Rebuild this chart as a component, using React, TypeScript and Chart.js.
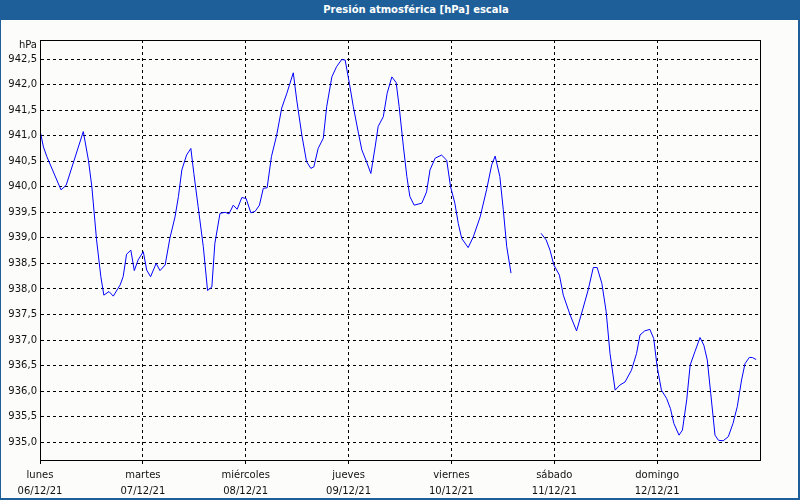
import React, { useEffect, useRef } from 'react';
import { Chart, registerables } from 'chart.js';

Chart.register(...registerables);

const chartTitle = 'Presión atmosférica [hPa] escala';

// hours since Monday 06/12/21 00:00
const hours = [
  0, 0.8, 1.6, 4.9, 6.1, 10.1, 11.3, 12.1, 13.2, 14.2, 14.9, 16.1, 17.1, 18.7, 19.4, 20.2, 21.2, 22.0, 22.9,
  24.1, 24.9, 25.8, 27.1, 28.0, 29.2, 30.3, 31.5, 32.3, 33.1, 34.2, 35.2, 35.9, 36.9, 38.1, 39.1, 40.1, 40.8,
  42.0, 43.2, 44.1, 45.1, 46.0, 47.1, 48.1, 49.2, 50.2, 51.2, 52.1, 53.0, 54.0, 55.2, 56.4, 57.6, 59.1, 59.9,
  61.1, 62.2, 63.2, 63.9, 64.9, 66.1, 66.9, 68.1, 69.2, 70.4, 71.2, 72.2, 73.1, 74.3, 75.1, 76.2, 77.2, 78.2,
  78.9, 80.1, 81.0, 82.1, 83.1, 83.8, 84.8, 85.6, 86.3, 87.3, 89.1, 90.2, 91.0, 92.2, 93.7, 94.9, 95.8, 96.8,
  97.6, 98.4, 99.9, 101.1, 102.7, 104.2, 105.4, 106.2, 107.3, 108.1, 108.9, 109.9, 113, 116.9, 118.1, 119.0,
  119.9, 121.2, 122.1, 123.7, 125.2, 126.6, 127.9, 129.1, 130.0, 131.1, 132.1, 133.0, 134.2, 135.3, 136.5,
  138.0, 139.2, 140.0, 141.1, 142.3, 143.2, 144.0, 145.0, 146.2, 147.1, 147.9, 149.1, 149.9, 150.9, 151.7,
  152.8, 154.0, 154.9, 155.7, 156.5, 157.5, 158.3, 159.4, 160.6, 161.7, 162.7, 163.7, 164.5, 165.5, 166.2, 167.1,
];

const pressure: (number | null)[] = [
  941.1, 940.78, 940.59, 939.94, 940.03, 941.08, 940.52, 940.0, 938.96, 938.24, 937.88, 937.95, 937.86, 938.08,
  938.24, 938.68, 938.76, 938.36, 938.57,
  938.73, 938.37, 938.24, 938.5, 938.36, 938.47, 938.99, 939.41, 939.81, 940.33, 940.62, 940.75, 940.26, 939.61,
  938.83, 937.97, 938.04, 938.89,
  939.48, 939.5, 939.47, 939.64, 939.56, 939.79, 939.77, 939.49, 939.52, 939.64, 939.97, 939.98, 940.59, 941.0,
  941.54, 941.83, 942.23, 941.7,
  941.01, 940.49, 940.36, 940.39, 940.75, 940.95, 941.57, 942.15, 942.35, 942.49, 942.48, 942.02, 941.57, 941.05,
  940.72, 940.49, 940.26, 940.78,
  941.18, 941.37, 941.83, 942.15, 942.04, 941.57, 940.78, 940.2, 939.81, 939.64, 939.68, 939.9, 940.33, 940.56,
  940.62, 940.52, 940.0, 939.68,
  939.28, 938.99, 938.81, 939.02, 939.41, 939.94, 940.43, 940.6, 940.2, 939.55, 938.83, 938.31, null, 939.09,
  938.96, 938.76,
  938.47, 938.27, 937.88, 937.49, 937.18, 937.59, 937.98, 938.42, 938.42, 938.11, 937.56, 936.74, 936.02, 936.12,
  936.18,
  936.41, 936.74, 937.1, 937.18, 937.21, 937.03, 936.48, 936.02, 935.86, 935.66, 935.37, 935.14, 935.24, 935.83,
  936.51,
  936.77, 937.05, 936.9, 936.61, 935.96, 935.14, 935.04, 935.03, 935.11, 935.37, 935.7, 936.22, 936.54, 936.66,
  936.66, 936.62,
];

const dayNames = ['lunes', 'martes', 'miércoles', 'jueves', 'viernes', 'sábado', 'domingo'];
const dayDates = ['06/12/21', '07/12/21', '08/12/21', '09/12/21', '10/12/21', '11/12/21', '12/12/21'];
const yTickValues = [935.0, 935.5, 936.0, 936.5, 937.0, 937.5, 938.0, 938.5, 939.0, 939.5, 940.0, 940.5, 941.0, 941.5, 942.0, 942.5];
const yUnitLabel = 'hPa';
const yUnitValue = 942.76;
const yMin = 934.654;
const yMax = 942.872;
const xMaxHours = 168;

const BLUE_FRAME = '#1e5f99';
const FONT = '"DejaVu Sans", Verdana, sans-serif';

const framePlugin = {
  id: 'frame',
  afterDraw(chart: any) {
    const { ctx, chartArea } = chart;
    ctx.save();
    ctx.strokeStyle = '#000';
    ctx.lineWidth = 1;
    ctx.setLineDash([]);
    ctx.strokeRect(Math.round(chartArea.left) + 0.5, Math.round(chartArea.top) + 0.5,
      Math.round(chartArea.right - chartArea.left), Math.round(chartArea.bottom - chartArea.top));
    ctx.restore();
  },
};

export default function App() {
  const canvasRef = useRef<HTMLCanvasElement | null>(null);

  useEffect(() => {
    if (!canvasRef.current) return;
    const data = hours.map((h, i) => ({ x: h, y: pressure[i] }));
    const chart = new Chart(canvasRef.current, {
      type: 'line',
      data: {
        datasets: [
          {
            data: data as any,
            borderColor: '#0000ff',
            borderWidth: 1,
            pointRadius: 0,
            tension: 0,
            spanGaps: false,
            fill: false,
          },
        ],
      },
      options: {
        animation: false,
        responsive: false,
        maintainAspectRatio: false,
        layout: { padding: { left: 0, top: 40, right: 40, bottom: 0 } },
        plugins: {
          legend: { display: false },
          tooltip: { enabled: false },
          title: { display: false },
        },
        scales: {
          x: {
            type: 'linear',
            min: 0,
            max: xMaxHours,
            afterBuildTicks: (scale: any) => {
              scale.ticks = dayNames.map((_, i) => ({ value: i * 24 }));
            },
            afterFit: (scale: any) => {
              scale.height = 40;
            },
            grid: {
              color: '#000',
              lineWidth: 1,
              drawTicks: true,
              tickLength: 4,
              tickColor: '#000',
              tickBorderDash: [],
            },
            border: { display: true, color: '#000', width: 1, dash: [3, 3] },
            ticks: {
              autoSkip: false,
              maxRotation: 0,
              padding: 4,
              color: '#111',
              font: { family: FONT, size: 10, lineHeight: 1.55 },
              callback: (value: any) => {
                const i = Math.round(Number(value) / 24);
                return [dayNames[i], dayDates[i]];
              },
            },
          },
          y: {
            type: 'linear',
            min: yMin,
            max: yMax,
            afterBuildTicks: (scale: any) => {
              scale.ticks = [...yTickValues.map((v) => ({ value: v })), { value: yUnitValue }];
            },
            afterFit: (scale: any) => {
              scale.width = 40;
            },
            grid: {
              color: (ctx: any) => (ctx.tick && ctx.tick.value > 942.6 ? 'rgba(0,0,0,0)' : '#000'),
              lineWidth: 1,
              drawTicks: false,
            },
            border: { display: true, color: '#000', width: 1, dash: [3, 3] },
            ticks: {
              autoSkip: false,
              padding: 3,
              color: '#111',
              font: { family: FONT, size: 10 },
              callback: (value: any) => {
                const v = Number(value);
                if (v > 942.6) return yUnitLabel;
                return v.toFixed(1).replace('.', ',');
              },
            },
          },
        },
      },
      plugins: [framePlugin],
    } as any);
    return () => chart.destroy();
  }, []);

  return (
    <div
      style={{
        position: 'fixed',
        left: 0,
        top: 0,
        width: 800,
        height: 500,
        background: '#fcfdfb',
        overflow: 'hidden',
      }}
    >
      <canvas ref={canvasRef} width={800} height={500} style={{ position: 'absolute', left: 0, top: 0, width: 800, height: 500 }} />
      <div
        style={{
          position: 'absolute',
          left: 0,
          top: 0,
          width: 800,
          height: 20,
          background: BLUE_FRAME,
          color: '#fff',
          fontFamily: FONT,
          fontWeight: 'bold',
          fontSize: 10,
          lineHeight: '20px',
          textAlign: 'center',
          paddingLeft: 32,
          boxSizing: 'border-box',
          whiteSpace: 'nowrap',
        }}
      >
        {chartTitle}
      </div>
      <div
        style={{
          position: 'absolute',
          left: 0,
          top: 0,
          width: 800,
          height: 500,
          boxSizing: 'border-box',
          borderLeft: `1px solid ${BLUE_FRAME}`,
          borderRight: `2px solid ${BLUE_FRAME}`,
          borderBottom: `2px solid ${BLUE_FRAME}`,
          pointerEvents: 'none',
        }}
      />
    </div>
  );
}
